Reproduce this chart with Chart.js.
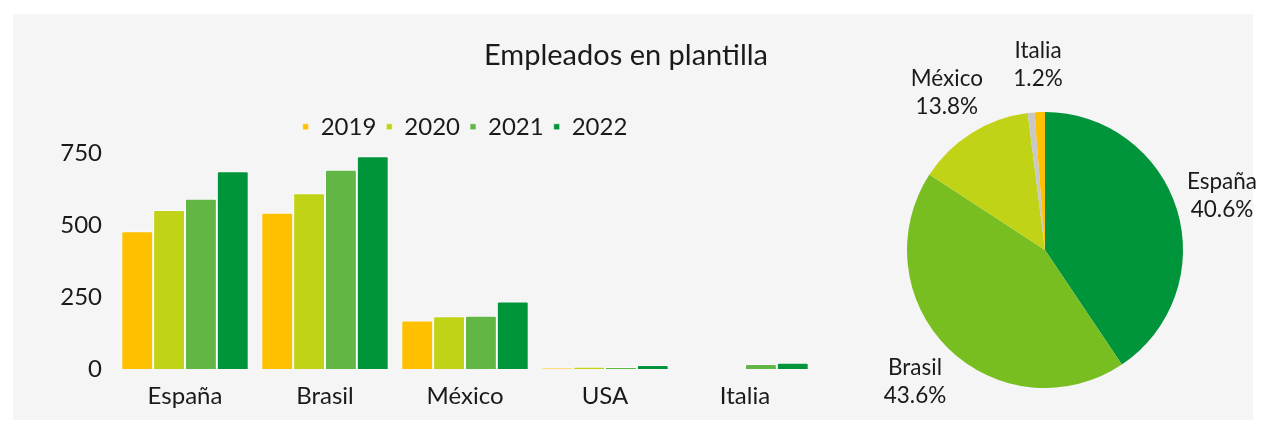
<!DOCTYPE html>
<html>
<head>
<meta charset="utf-8">
<script src="https://cdn.jsdelivr.net/npm/chart.js@4/dist/chart.umd.min.js"></script>
<style>
  body { margin: 0; background: #ffffff; }
  #panel { position: absolute; left: 13px; top: 14px; width: 1240px; height: 406px; background: #f5f5f5; }
  #barChart { position: absolute; left: 13px; top: 14px; }
  #pieChart { position: absolute; left: 860px; top: 14px; }
</style>
</head>
<body>
<div id="panel"></div>
<canvas id="barChart" width="1240" height="406"></canvas>
<canvas id="pieChart" width="405" height="406"></canvas>
<script>
// data
const countries = ['España', 'Brasil', 'México', 'USA', 'Italia'];
const years = ['2019', '2020', '2021', '2022'];
const emp2019 = [478, 542, 168, 4, 0];
const emp2020 = [552, 610, 183, 8, 0];
const emp2021 = [591, 691, 185, 7, 17];
const emp2022 = [686, 738, 234, 14, 22];
const yTicks = [0, 250, 500, 750];

// share of 2022 headcount per country (pie)
const pieShares = [40.6, 43.6, 13.8, 0.8, 1.2];
const pieHidden = ['USA'];

const yearColors = ['#FFC000', '#C1D317', '#62B646', '#00953A'];
const pieColors = ['#00953A', '#78BE20', '#C1D317', '#C8C8C8', '#FFC000'];
const textColor = '#1a1a1a';

Chart.defaults.font.family = 'Lato, "Open Sans", sans-serif';
Chart.defaults.color = textColor;

document.addEventListener("DOMContentLoaded", function() {
    drawBarChart();
    drawPieChart();
});

// keep the legend box at a fixed height so the plot starts where it should
const legendHeightFix = {
    id: 'legendHeightFix',
    beforeLayout(chart) {
        const lg = chart.legend;
        if (!lg || lg._fixed) return;
        const fit = lg.fit;
        lg.fit = function() {
            fit.call(this);
            this.height = 48;
        };
        lg._fixed = true;
    }
};

function drawBarChart() {
    const series = [emp2019, emp2020, emp2021, emp2022];
    const ctx = document.getElementById('barChart').getContext('2d');
    new Chart(ctx, {
        type: 'bar',
        data: {
            labels: countries,
            datasets: series.map((vals, i) => ({
                label: years[i],
                data: vals,
                backgroundColor: yearColors[i],
                borderColor: 'rgba(255,255,255,0.55)',
                borderWidth: 1,
                borderRadius: 2,
                barPercentage: 1,
                categoryPercentage: 0.91
            }))
        },
        options: {
            responsive: false,
            animation: false,
            layout: { padding: { left: 0, right: 14, top: 0, bottom: 0 } },
            plugins: {
                title: {
                    display: true,
                    text: 'Empleados en plantilla',
                    font: { size: 29, weight: 'normal' },
                    color: textColor,
                    padding: { top: 24, bottom: 32 }
                },
                legend: {
                    position: 'top',
                    fullSize: false,
                    labels: {
                        boxWidth: 6,
                        boxHeight: 6,
                        padding: 10,
                        font: { size: 24 },
                        color: textColor
                    }
                },
                tooltip: { enabled: false }
            },
            scales: {
                x: {
                    grid: { display: false, drawTicks: false },
                    border: { display: false },
                    ticks: { font: { size: 24 }, padding: 13, maxRotation: 0 },
                    afterFit: s => { s.height = 51; }
                },
                y: {
                    min: 0,
                    max: 750,
                    grid: { display: false, drawTicks: false },
                    border: { display: false },
                    afterBuildTicks: s => { s.ticks = yTicks.map(v => ({ value: v })); },
                    ticks: { font: { size: 24 }, padding: 13 },
                    afterFit: s => { s.width = 102; }
                },
                // empty axis that keeps room on the right for the pie
                yRight: {
                    position: 'right',
                    grid: { display: false, drawTicks: false },
                    border: { display: false },
                    ticks: { display: false },
                    afterFit: s => { s.width = 424; }
                }
            }
        },
        plugins: [legendHeightFix]
    });
}

const pieLabels = {
    id: 'pieLabels',
    afterDraw(chart) {
        const ctx = chart.ctx;
        const arcs = chart.getDatasetMeta(0).data;
        ctx.save();
        ctx.font = '22.5px Lato, "Open Sans", sans-serif';
        ctx.fillStyle = textColor;
        ctx.textAlign = 'center';
        ctx.textBaseline = 'middle';
        arcs.forEach((arc, i) => {
            if (pieHidden.includes(countries[i])) return;
            const mid = (arc.startAngle + arc.endAngle) / 2;
            const r = arc.outerRadius + 47;
            const x = arc.x + Math.cos(mid) * r;
            const y = arc.y + Math.sin(mid) * r;
            ctx.fillText(countries[i], x, y - 14);
            ctx.fillText(pieShares[i].toFixed(1) + '%', x, y + 14);
        });
        ctx.restore();
    }
};

function drawPieChart() {
    const ctx = document.getElementById('pieChart').getContext('2d');
    new Chart(ctx, {
        type: 'pie',
        data: {
            labels: countries,
            datasets: [{
                data: pieShares,
                backgroundColor: pieColors,
                borderWidth: 0
            }]
        },
        options: {
            responsive: false,
            animation: false,
            layout: { padding: { left: 47, right: 82, top: 98, bottom: 32 } },
            plugins: {
                legend: { display: false },
                tooltip: { enabled: false }
            }
        },
        plugins: [pieLabels]
    });
}
</script>
</body>
</html>
